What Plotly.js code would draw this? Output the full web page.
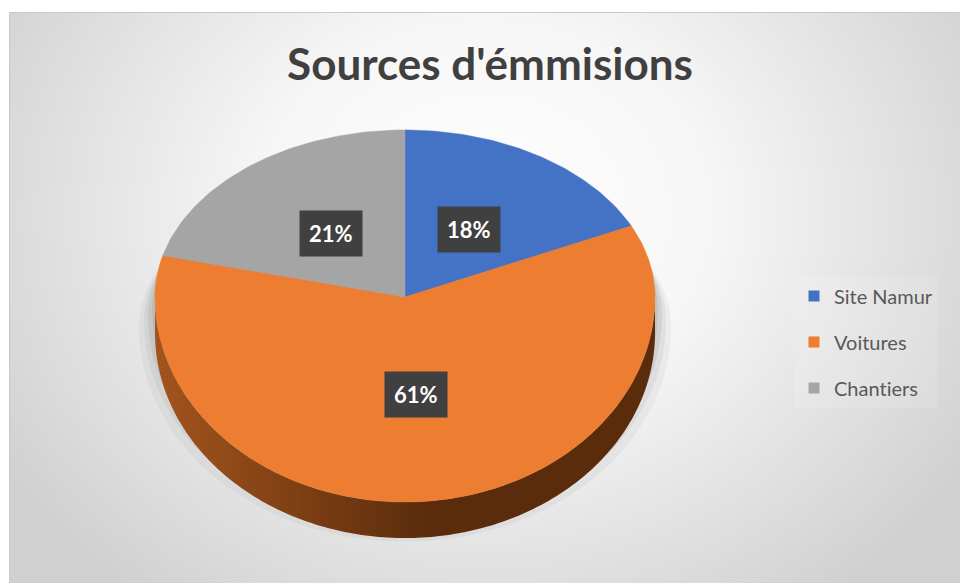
<!DOCTYPE html>
<html>
<head>
<meta charset="utf-8">
<script src="https://cdn.plot.ly/plotly-3.0.1.min.js"></script>
<style>
  html, body { margin: 0; padding: 0; background: #ffffff; }
  #wrap { position: relative; width: 960px; height: 583px; overflow: hidden; }
  #bg { position: absolute; left: 9px; top: 12px; right: 0; bottom: 0;
        background: radial-gradient(ellipse 60% 85% at 50% 35%, #ffffff 0%, #f6f6f6 40%, #e0e0e0 75%, #d0d0d0 100%);
        border-top: 1px solid #c8c8c8; border-left: 1px solid #c8c8c8; }
  #chart { position: absolute; left: 0; top: 0; width: 960px; height: 583px; }
  #chart text { font-variant-ligatures: none; font-feature-settings: "liga" 0, "clig" 0; }
</style>
</head>
<body>
<div id="wrap">
  <div id="bg"></div>
  <div id="chart"></div>
</div>
<script>
// ---- data ----
const categories = ['Site Namur', 'Voitures', 'Chantiers'];
const values = [18, 61, 21];
const colors = ['#4472C4', '#ED7D31', '#A5A5A5'];
const sideColors = [
  ['#2c4f8f', '#1d3563'],
  ['#a3541d', '#5a2c0c'],
  ['#7a7a7a', '#505050']
];
const chartTitle = "Sources d'émmisions";

// ---- geometry (style) ----
const G = { cx: 405, cy: 297, a: 250, bTop: 167, bBot: 205, depth: 36, labelR: 0.48 };
const FONT = 'Lato, "Open Sans", "DejaVu Sans", sans-serif';

function pt(thetaDeg, r, dy) {
  const t = thetaDeg * Math.PI / 180;
  const s = Math.sin(t), c = Math.cos(t);
  const b = c >= 0 ? G.bTop : G.bBot;
  return [G.cx + G.a * r * s, G.cy - b * r * c + (dy || 0)];
}
function arc(from, to, r, dy) {
  const xs = [], ys = [];
  const n = Math.max(2, Math.ceil(Math.abs(to - from)));
  for (let i = 0; i <= n; i++) {
    const p = pt(from + (to - from) * i / n, r, dy);
    xs.push(p[0]); ys.push(p[1]);
  }
  return [xs, ys];
}

const total = values.reduce((s, v) => s + v, 0);
const pct = v => Math.round(v / total * 100) + '%';
const traces = [];
const annotations = [];

// soft shadow under the pie (mostly below / behind the side wall)
[[16, 30, 0.07], [11, 24, 0.09], [7, 18, 0.12], [3, 12, 0.14]].forEach(([grow, dy, op]) => {
  const xs = [], ys = [];
  for (let d = 0; d <= 360; d += 2) {
    const t = d * Math.PI / 180;
    const b = Math.cos(t) >= 0 ? G.bTop - 20 : G.bBot;
    xs.push(G.cx + (G.a + grow) * Math.sin(t));
    ys.push(G.cy + dy - (b + grow * 0.6) * Math.cos(t));
  }
  traces.push({ type: 'scatter', mode: 'none', x: xs, y: ys, fill: 'toself',
    fillcolor: 'rgba(110,110,110,' + op + ')', hoverinfo: 'skip', showlegend: false });
});

// slice angles (clockwise from 12 o'clock)
let acc = 0;
const slices = values.map((v, i) => {
  const start = acc / total * 360;
  acc += v;
  const end = acc / total * 360;
  return { i, start, end };
});

// side walls (visible front half: 90..270 deg)
slices.forEach(s => {
  const from = Math.max(s.start, 90), to = Math.min(s.end, 270);
  if (to <= from) return;
  const top = arc(from, to, 1, 0);
  const bot = arc(to, from, 1, G.depth);
  traces.push({
    type: 'scatter', mode: 'none',
    x: top[0].concat(bot[0]), y: top[1].concat(bot[1]),
    fill: 'toself',
    fillcolor: sideColors[s.i][0],
    fillgradient: { type: 'horizontal',
      colorscale: [[0, sideColors[s.i][0]], [0.55, sideColors[s.i][1]], [1, sideColors[s.i][1]]] },
    legendgroup: categories[s.i], showlegend: false, hoverinfo: 'skip'
  });
});

// top faces + data labels
slices.forEach(s => {
  const a = arc(s.start, s.end, 1, 0);
  traces.push({
    type: 'scatter', mode: 'lines',
    x: [G.cx].concat(a[0], [G.cx]), y: [G.cy].concat(a[1], [G.cy]),
    fill: 'toself', fillcolor: colors[s.i],
    line: { width: 0.5, color: colors[s.i] },
    name: categories[s.i], legendgroup: categories[s.i], showlegend: false,
    hoveron: 'fills', text: categories[s.i] + ': ' + pct(values[s.i]),
    hoverinfo: 'text'
  });
  const lp = pt((s.start + s.end) / 2, G.labelR, 0);
  annotations.push({
    x: lp[0], y: lp[1], xref: 'x', yref: 'y', showarrow: false,
    text: '<b>' + pct(values[s.i]) + '</b>',
    font: { family: FONT, size: 22, color: '#ffffff' },
    bgcolor: '#404040', borderpad: 9, xanchor: 'center', yanchor: 'middle'
  });
});

// legend entries (square markers)
categories.forEach((c, i) => {
  traces.push({
    type: 'scatter', mode: 'markers', x: [null], y: [null],
    marker: { symbol: 'square', size: 11, color: colors[i] },
    name: c, legendgroup: c, showlegend: true, hoverinfo: 'skip'
  });
});

const layout = {
  width: 960, height: 583,
  margin: { l: 0, r: 0, t: 0, b: 0 },
  paper_bgcolor: 'rgba(0,0,0,0)', plot_bgcolor: 'rgba(0,0,0,0)',
  xaxis: { range: [0, 960], visible: false, fixedrange: true },
  yaxis: { range: [583, 0], visible: false, fixedrange: true },
  title: {
    text: '<b>' + chartTitle + '</b>',
    font: { family: FONT, size: 44, color: '#404040' },
    x: 490 / 960, xanchor: 'center', y: 1 - 65 / 583, yanchor: 'middle'
  },
  showlegend: true,
  legend: {
    x: 794 / 960, xanchor: 'left', y: 1 - 342 / 583, yanchor: 'middle',
    font: { family: FONT, size: 20, color: '#595959' },
    bgcolor: 'rgba(255,255,255,0.12)', itemwidth: 30, tracegroupgap: 17,
    traceorder: 'grouped'
  },
  annotations: annotations,
  hovermode: 'closest'
};

Plotly.newPlot('chart', traces, layout, { displayModeBar: false, responsive: false });
</script>
</body>
</html>
